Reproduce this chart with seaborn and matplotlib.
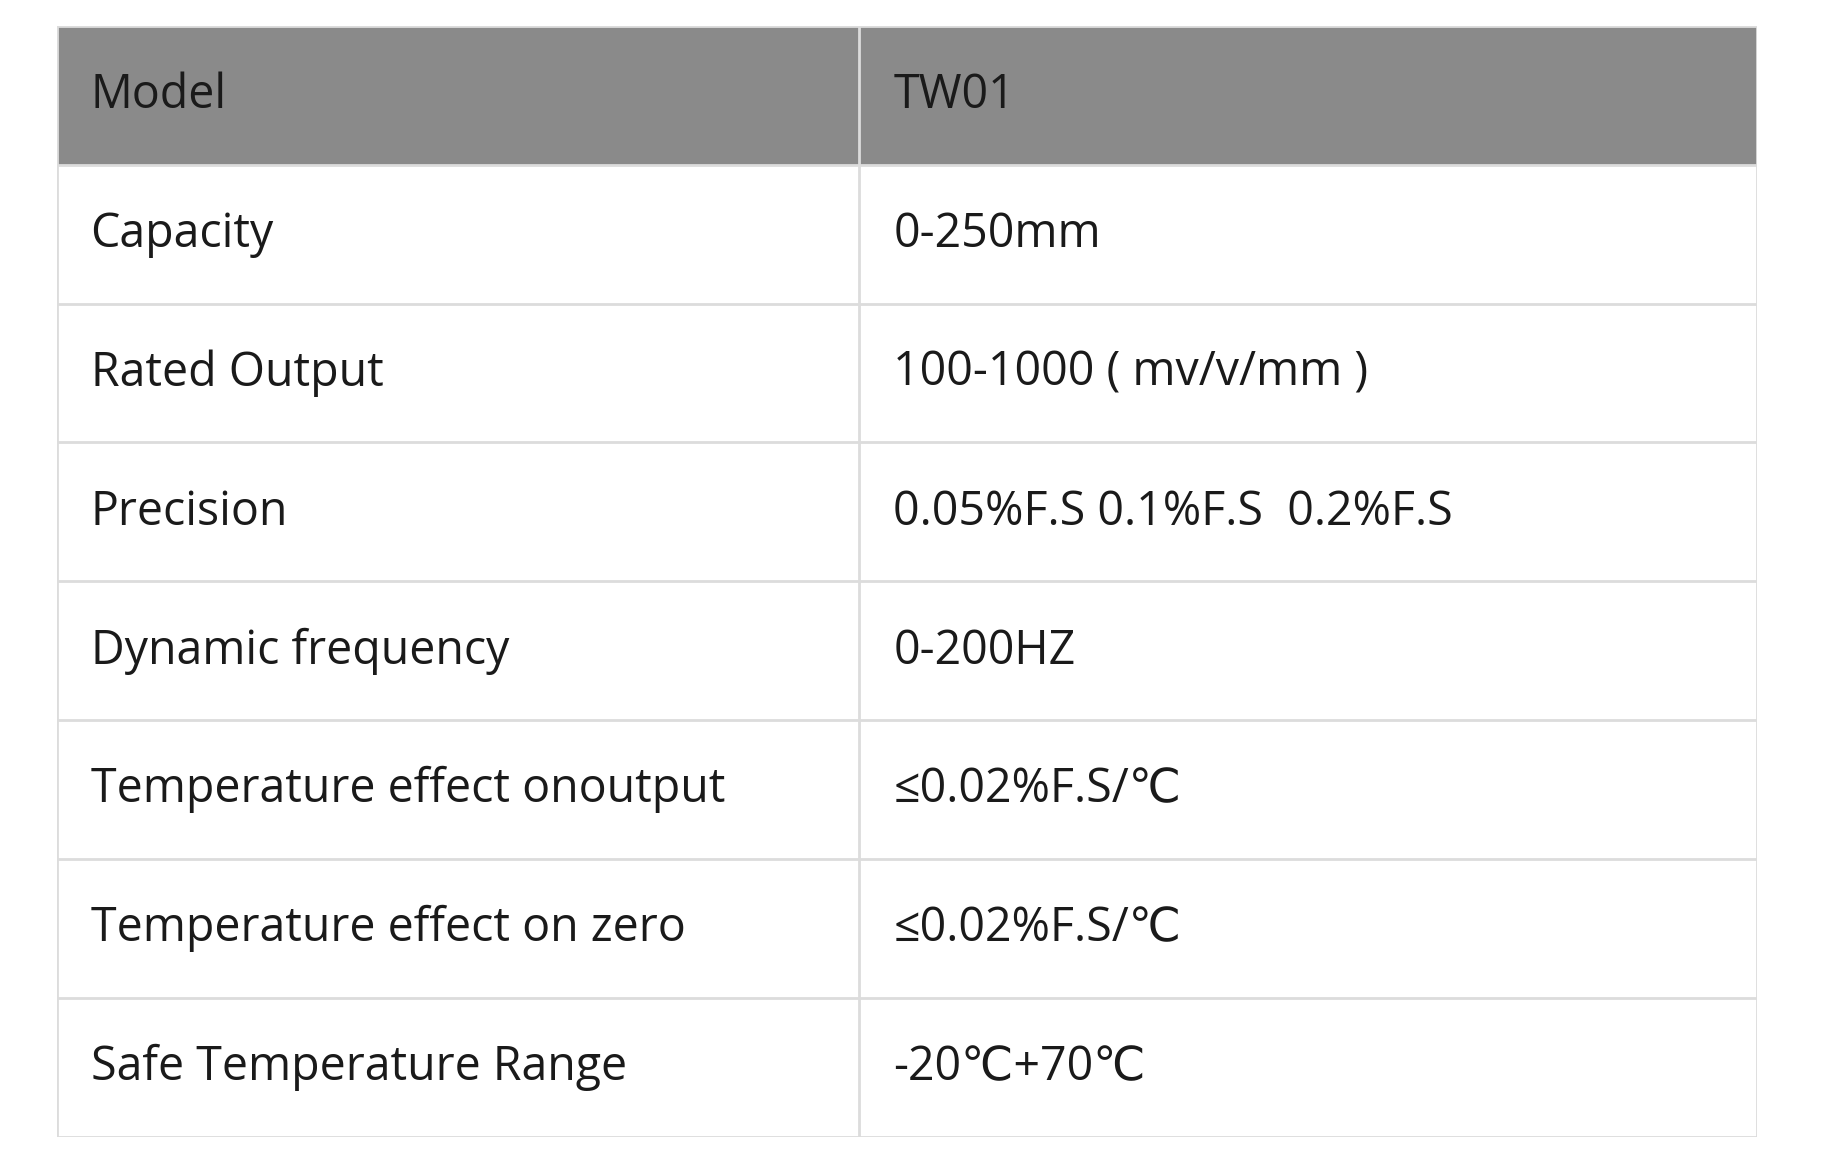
import matplotlib
matplotlib.use("Agg")
import matplotlib.pyplot as plt
import seaborn as sns
import numpy as np
from matplotlib.colors import ListedColormap

params = ["Model", "Capacity", "Rated Output", "Precision", "Dynamic frequency",
          "Temperature effect onoutput", "Temperature effect on zero", "Safe Temperature Range"]
values = ["TW01", "0-250mm", "100-1000 ( mv/v/mm )", "0.05%F.S 0.1%F.S  0.2%F.S", "0-200HZ",
          "≤0.02%F.S/℃", "≤0.02%F.S/℃", "-20℃+70℃"]

sns.set_theme(style="white")
plt.rcParams['font.family'] = ['Open Sans', 'DejaVu Sans']

ncols = 36
split = 17
grid = np.zeros((len(params), ncols))
grid[0, :] = 1

fig = plt.figure(figsize=(18.24, 11.72), dpi=100)
ax = fig.add_axes([0.031, 0.03, 0.932, 0.948])
sns.heatmap(grid, ax=ax, cmap=ListedColormap(["#ffffff", "#8a8a8a"]), cbar=False,
            xticklabels=False, yticklabels=False, linewidths=0)
lc = "#dcdcdc"
for y in range(len(params) + 1):
    ax.axhline(y, color=lc, lw=2)
for x in (0, split, ncols):
    ax.axvline(x, color=lc, lw=2)
for i, (p, v) in enumerate(zip(params, values)):
    ax.text(0.72, i + 0.5, p, va="center", ha="left", fontsize=33.5, color="#1a1a1a")
    ax.text(split + 0.72, i + 0.5, v, va="center", ha="left", fontsize=33.5, color="#1a1a1a")
fig.savefig("out.png", dpi=100)
